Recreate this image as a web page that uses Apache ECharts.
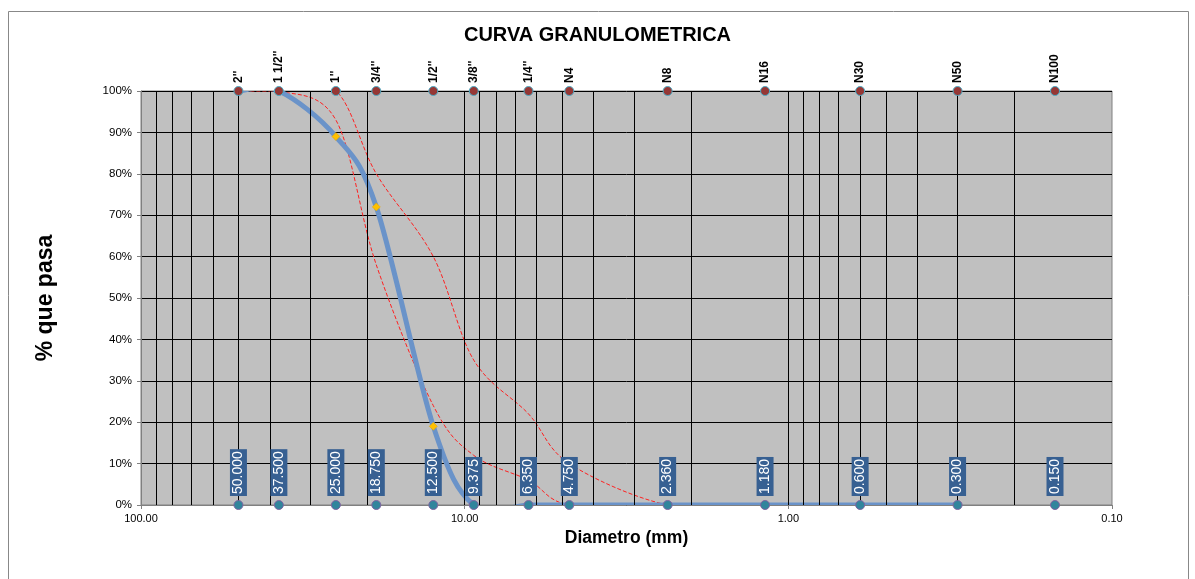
<!DOCTYPE html>
<html>
<head>
<meta charset="utf-8">
<script src="https://cdn.jsdelivr.net/npm/echarts@6/dist/echarts.min.js"></script>
<style>
html,body{margin:0;padding:0;background:#fff;}
#chart{width:1195px;height:579px;}
</style>
</head>
<body>
<div id="chart"></div>
<script>
// ---- data ----
var sieveNames = ["2''", "1 1/2''", "1''", "3/4''", "1/2''", "3/8''", "1/4''", "N4", "N8", "N16", "N30", "N50", "N100"];
var diameters = [50, 37.5, 25, 18.75, 12.5, 9.375, 6.35, 4.75, 2.36, 1.18, 0.6, 0.3, 0.15];
// curve diameters (to 0.300 mm)
var curveDiameters = [50, 37.5, 25, 18.75, 12.5, 9.375, 6.35, 4.75, 2.36, 1.18, 0.6, 0.3];
var passing = [100, 100, 89, 72, 19, 0, 0, 0, 0, 0, 0, 0];
var upperLimit = [100, 100, 100, 80, 60, 35, 22, 10, 0, 0, 0, 0];
var lowerLimit = [100, 100, 93, 58, 24, 12, 6, 0, 0, 0, 0, 0];
var yTicks = [0, 10, 20, 30, 40, 50, 60, 70, 80, 90, 100];

// log-grid reference lines (style only)
var gridVals = [];
[0.1, 1, 10].forEach(function (d) {
  for (var k = 1; k <= 9; k++) {
    var v = +(k * d).toPrecision(6);
    if (v > 0.1 && v < 100) gridVals.push(v);
  }
});

function pairs(xs, ys) { return xs.map(function (x, i) { return [x, ys[i]]; }); }

// Excel-like smoothed curve (Catmull-Rom Bezier through the points, via the axes' own scales)
function smoothCurve(name, xs, ys, color, width, dash, z) {
  return {
    name: name, type: 'custom', z: z, clip: true, silent: true,
    data: pairs(xs, ys),
    renderItem: function (params, api) {
      if (params.dataIndex !== 0) return null;
      var pts = xs.map(function (x, i) { return api.coord([x, ys[i]]); });
      var n = pts.length;
      var d = 'M' + pts[0][0] + ' ' + pts[0][1];
      for (var i = 0; i < n - 1; i++) {
        var p0 = pts[i - 1] || pts[i], p1 = pts[i], p2 = pts[i + 1], p3 = pts[i + 2] || pts[i + 1];
        var c1x = p1[0] + (p2[0] - p0[0]) / 6, c1y = p1[1] + (p2[1] - p0[1]) / 6;
        var c2x = p2[0] - (p3[0] - p1[0]) / 6, c2y = p2[1] - (p3[1] - p1[1]) / 6;
        d += ' C' + c1x + ' ' + c1y + ' ' + c2x + ' ' + c2y + ' ' + p2[0] + ' ' + p2[1];
      }
      return {
        type: 'path',
        shape: { pathData: d },
        style: { fill: 'none', stroke: color, lineWidth: width, lineDash: dash }
      };
    }
  };
}

var FONT = "'Liberation Sans', Arial, sans-serif";
var chart = echarts.init(document.getElementById('chart'));
var option = {
  backgroundColor: '#ffffff',
  animation: false,
  title: {
    text: 'CURVA GRANULOMETRICA',
    left: 'center', top: 25, padding: 0,
    textStyle: { fontFamily: FONT, fontSize: 20, fontWeight: 'bold', color: '#000' }
  },
  graphic: [{
    type: 'rect', silent: true, z: -10,
    shape: { x: 8.5, y: 11.5, width: 1180, height: 620 },
    style: { fill: null, stroke: '#888888', lineWidth: 1 }
  }],
  grid: {
    left: 141, top: 91, width: 971, height: 414,
    show: true, backgroundColor: '#c0c0c0', borderColor: '#808080', borderWidth: 1
  },
  xAxis: {
    type: 'log', logBase: 10, min: 0.1, max: 100, inverse: true,
    name: 'Diametro (mm)', nameLocation: 'middle', nameGap: 19,
    nameTextStyle: { fontFamily: FONT, fontSize: 17.5, fontWeight: 'bold', color: '#000' },
    axisLine: { lineStyle: { color: '#808080' } },
    axisTick: { show: true, length: 4, lineStyle: { color: '#808080' } },
    splitLine: { show: false },
    axisLabel: {
      fontFamily: FONT, fontSize: 11, color: '#000', margin: 8,
      formatter: function (v) { return (+v).toFixed(2); }
    }
  },
  yAxis: {
    type: 'value', min: 0, max: 100, interval: 10,
    name: '% que pasa', nameLocation: 'middle', nameGap: 84, nameRotate: 90,
    nameTextStyle: { fontFamily: FONT, fontSize: 23, fontWeight: 'bold', color: '#000' },
    axisLine: { show: true, lineStyle: { color: '#808080' } },
    axisTick: { show: true, length: 4, lineStyle: { color: '#808080' } },
    splitLine: { show: true, lineStyle: { color: '#000', width: 1 } },
    axisLabel: { fontFamily: FONT, fontSize: 11.5, color: '#000', margin: 9, formatter: '{value}%' }
  },
  series: [
    {
      name: 'grid', type: 'line', data: [], z: 1, silent: true,
      markLine: {
        silent: true, symbol: 'none', animation: false,
        label: { show: false },
        lineStyle: { color: '#000', width: 1, type: 'solid' },
        data: gridVals.map(function (v) { return { xAxis: v }; })
      }
    },
    smoothCurve('Limite superior', curveDiameters, upperLimit, '#ff2020', 1, [4, 2], 3),
    smoothCurve('Limite inferior', curveDiameters, lowerLimit, '#ff2020', 1, [4, 2], 3),
    smoothCurve('% pasa', curveDiameters, passing, '#6a93c9', 5, null, 4),
    {
      name: '% pasa puntos', type: 'scatter', z: 5, silent: true,
      data: pairs(curveDiameters, passing),
      symbol: 'diamond', symbolSize: 8,
      itemStyle: { color: '#ffc000', borderColor: '#e0a000', borderWidth: 0.5, opacity: 1 }
    },
    {
      name: 'tamices', type: 'scatter', z: 6,
      data: diameters.map(function (d) { return [d, 100]; }),
      symbol: 'circle', symbolSize: 9,
      itemStyle: { color: '#953735', borderColor: '#4bacc6', borderWidth: 1, opacity: 1 },
      label: {
        show: true, position: 'top', distance: 3, rotate: 90,
        align: 'left', verticalAlign: 'middle',
        fontFamily: FONT, fontSize: 12, fontWeight: 'bold', color: '#000',
        formatter: function (p) { return sieveNames[p.dataIndex]; }
      }
    },
    {
      name: 'aberturas', type: 'scatter', z: 6,
      data: diameters.map(function (d) { return [d, 0]; }),
      symbol: 'circle', symbolSize: 9,
      itemStyle: { color: '#31859c', borderColor: '#8064a2', borderWidth: 1, opacity: 1 },
      label: {
        show: true, position: 'top', distance: 4, rotate: 90,
        align: 'left', verticalAlign: 'middle',
        fontFamily: FONT, fontSize: 14, color: '#fff',
        backgroundColor: '#376092', padding: [1, 2, 1, 2], lineHeight: 15,
        formatter: function (p) { return diameters[p.dataIndex].toFixed(3); }
      }
    }
  ]
};
chart.setOption(option);
</script>
</body>
</html>
